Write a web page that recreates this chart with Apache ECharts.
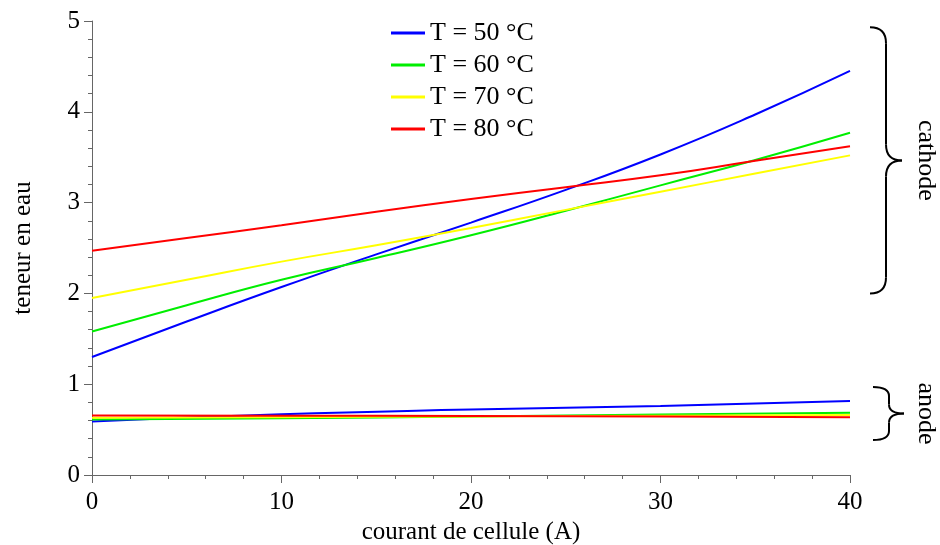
<!DOCTYPE html>
<html>
<head>
<meta charset="utf-8">
<script src="https://cdn.jsdelivr.net/npm/echarts@6/dist/echarts.min.js"></script>
<style>
html,body{margin:0;padding:0;background:#fff;}
#chart{width:940px;height:545px;}
</style>
</head>
<body>
<div id="chart"></div>
<script>
var seriesNames = ['T = 50 °C', 'T = 60 °C', 'T = 70 °C', 'T = 80 °C'];
var seriesColors = ['#0000ff', '#00ee00', '#ffff00', '#ff0000'];

var cathodeX = [0, 5, 10, 15, 20, 25, 30, 35, 40];
var cathode50 = [1.30, 1.69, 2.07, 2.43, 2.78, 3.14, 3.53, 3.97, 4.45];
var cathode60 = [1.58, 1.87, 2.15, 2.39, 2.64, 2.91, 3.19, 3.47, 3.77];
var cathode70 = [1.95, 2.15, 2.35, 2.53, 2.72, 2.92, 3.12, 3.32, 3.52];
var cathode80 = [2.47, 2.61, 2.75, 2.90, 3.04, 3.17, 3.30, 3.46, 3.62];

var anodeX = [0, 10, 20, 30, 40];
var anode50 = [0.59, 0.67, 0.72, 0.76, 0.815];
var anode60 = [0.61, 0.625, 0.645, 0.665, 0.685];
var anode70 = [0.63, 0.637, 0.645, 0.652, 0.66];
var anode80 = [0.655, 0.653, 0.65, 0.643, 0.635];

var xTicks = [0, 10, 20, 30, 40];
var yTicks = [0, 1, 2, 3, 4, 5];

var braceLabels = ['cathode', 'anode'];
var braceRanges = [[2.0, 4.93], [0.385, 0.97]];

var FONT = '"Liberation Serif", "Times New Roman", serif';

function pairs(xs, ys) {
  return xs.map(function (x, i) { return [x, ys[i]]; });
}

var cathodeSets = [cathode50, cathode60, cathode70, cathode80];
var anodeSets = [anode50, anode60, anode70, anode80];

var series = [];
for (var i = 0; i < 4; i++) {
  series.push({
    name: seriesNames[i], type: 'line', data: pairs(anodeX, anodeSets[i]),
    symbol: 'none', smooth: true, lineStyle: { width: 2, color: seriesColors[i] },
    itemStyle: { color: seriesColors[i] }, z: 2 + i
  });
}
for (var j = 0; j < 4; j++) {
  series.push({
    name: seriesNames[j], type: 'line', data: pairs(cathodeX, cathodeSets[j]),
    symbol: 'none', smooth: true, lineStyle: { width: 2, color: seriesColors[j] },
    itemStyle: { color: seriesColors[j] }, z: 2 + j
  });
}

var chart = echarts.init(document.getElementById('chart'), null, { renderer: 'canvas' });

var axisCommon = {
  axisLine: { show: true, lineStyle: { color: '#666', width: 1 } },
  axisTick: { show: true, inside: false, length: 8, lineStyle: { color: '#666' } },
  minorTick: { show: true, splitNumber: 5, length: 4, lineStyle: { color: '#666' } },
  splitLine: { show: false },
  minorSplitLine: { show: false },
  nameTextStyle: { fontFamily: FONT, fontSize: 25, color: '#000' }
};

chart.setOption({
  animation: false,
  backgroundColor: '#fff',
  grid: { left: 92, right: 90, top: 21, bottom: 70, containLabel: false, outerBoundsMode: 'none' },
  legend: {
    data: seriesNames,
    orient: 'vertical',
    left: 386,
    top: 14,
    itemWidth: 34,
    itemHeight: 3,
    itemGap: 4,
    icon: 'rect',
    textStyle: { fontFamily: FONT, fontSize: 26, color: '#000', lineHeight: 28 },
    selectedMode: false
  },
  xAxis: Object.assign({}, axisCommon, {
    type: 'value', min: 0, max: 40, interval: 10,
    name: 'courant de cellule (A)', nameLocation: 'middle', nameGap: 43,
    axisLabel: { fontFamily: FONT, fontSize: 25, color: '#000', margin: 15,
      formatter: function (v) { return xTicks.indexOf(v) >= 0 ? String(v) : ''; } }
  }),
  yAxis: Object.assign({}, axisCommon, {
    type: 'value', min: 0, max: 5, interval: 1,
    name: 'teneur en eau', nameLocation: 'middle', nameGap: 56,
    axisLabel: { fontFamily: FONT, fontSize: 25, color: '#000', margin: 12,
      formatter: function (v) { return yTicks.indexOf(v) >= 0 ? String(v) : ''; } }
  }),
  series: series
});

function braceElements(yTop, yBot, x0, x1, x2, r) {
  var yM = (yTop + yBot) / 2;
  var st = { stroke: '#000', lineWidth: 2, fill: null };
  return [
    { type: 'bezierCurve', shape: { x1: x0, y1: yTop, x2: x1, y2: yTop + r, cpx1: x1, cpy1: yTop }, style: st, silent: true },
    { type: 'line', shape: { x1: x1, y1: yTop + r, x2: x1, y2: yM - r }, style: st, silent: true },
    { type: 'bezierCurve', shape: { x1: x1, y1: yM - r, x2: x2, y2: yM, cpx1: x1, cpy1: yM }, style: st, silent: true },
    { type: 'bezierCurve', shape: { x1: x2, y1: yM, x2: x1, y2: yM + r, cpx1: x1, cpy1: yM }, style: st, silent: true },
    { type: 'line', shape: { x1: x1, y1: yM + r, x2: x1, y2: yBot - r }, style: st, silent: true },
    { type: 'bezierCurve', shape: { x1: x1, y1: yBot - r, x2: x0, y2: yBot, cpx1: x1, cpy1: yBot }, style: st, silent: true }
  ];
}

var graphics = [];
var braceGeom = [
  { x0: 870, x1: 886, x2: 902, r: 16, tx: 926 },
  { x0: 873, x1: 889, x2: 904, r: 9, tx: 926 }
];
for (var k = 0; k < braceRanges.length; k++) {
  var yTop = chart.convertToPixel({ yAxisIndex: 0 }, braceRanges[k][1]);
  var yBot = chart.convertToPixel({ yAxisIndex: 0 }, braceRanges[k][0]);
  var g = braceGeom[k];
  graphics = graphics.concat(braceElements(yTop, yBot, g.x0, g.x1, g.x2, g.r));
  graphics.push({
    type: 'text',
    x: g.tx, y: (yTop + yBot) / 2,
    rotation: -Math.PI / 2,
    style: { text: braceLabels[k], font: '26px ' + FONT, fill: '#000', align: 'center', verticalAlign: 'middle' },
    silent: true
  });
}
chart.setOption({ graphic: graphics });
</script>
</body>
</html>
